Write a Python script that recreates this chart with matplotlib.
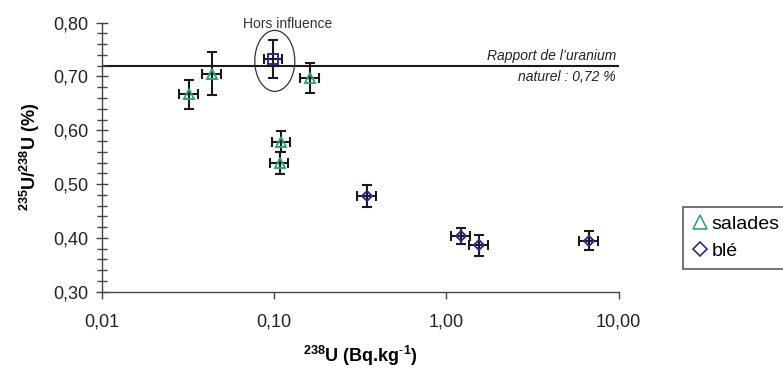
import matplotlib
matplotlib.use("Agg")
import matplotlib.pyplot as plt
from matplotlib.lines import Line2D
from matplotlib.patches import Ellipse
from matplotlib.ticker import FixedLocator, FuncFormatter, MultipleLocator

plt.rcParams['font.family'] = ['Liberation Sans', 'DejaVu Sans']
plt.rcParams['mathtext.fontset'] = 'custom'
plt.rcParams['mathtext.rm'] = 'Liberation Sans'
plt.rcParams['mathtext.bf'] = 'Liberation Sans:bold'
plt.rcParams['mathtext.it'] = 'Liberation Sans:italic'

# salades (lettuce)
sal_x = [0.032, 0.0437, 0.110, 0.108, 0.162]
sal_y = [0.667, 0.705, 0.579, 0.539, 0.697]
sal_xerr = [0.004, 0.0055, 0.013, 0.013, 0.020]
sal_yerr = [0.027, 0.040, 0.019, 0.021, 0.028]

# blé (wheat)
ble_x = [0.347, 1.22, 1.55, 6.76]
ble_y = [0.478, 0.4035, 0.386, 0.395]
ble_xerr = [0.042, 0.15, 0.19, 0.85]
ble_yerr = [0.021, 0.015, 0.020, 0.017]

# hors influence
hors_x = [0.099]
hors_y = [0.7325]
hors_xerr = [0.012]
hors_yerr = [0.035]

natural_ratio = 0.72
xticks = [0.01, 0.1, 1, 10]
xticklabels = ["0,01", "0,10", "1,00", "10,00"]

green = "#2fa67a"
navy = "#2c2b86"

fig = plt.figure(figsize=(7.83, 3.70), dpi=100)
ax = fig.add_axes([101.7 / 783, 1 - 291.7 / 370, 517 / 783, 269 / 370])

ax.set_xscale('log')
ax.set_xlim(0.01, 10)
ax.set_ylim(0.30, 0.80)

ekw = dict(fmt='none', ecolor='#1a1a1a', elinewidth=1.5, capsize=3.8, capthick=1.5, zorder=2)
ax.errorbar(sal_x, sal_y, xerr=sal_xerr, yerr=sal_yerr, **ekw)
ax.errorbar(ble_x, ble_y, xerr=ble_xerr, yerr=ble_yerr, **ekw)
ax.errorbar(hors_x, hors_y, xerr=hors_xerr, yerr=hors_yerr, **ekw)

ax.plot(sal_x, sal_y, linestyle='none', marker='^', markersize=7.5, markerfacecolor='none',
        markeredgecolor=green, markeredgewidth=1.4, zorder=3)
ax.plot(ble_x, ble_y, linestyle='none', marker='D', markersize=5.5, markerfacecolor='none',
        markeredgecolor=navy, markeredgewidth=1.4, zorder=3)
ax.plot(hors_x, hors_y, linestyle='none', marker='s', markersize=7, markerfacecolor='none',
        markeredgecolor=navy, markeredgewidth=1.4, zorder=3)

ax.axhline(natural_ratio, color='#1a1a1a', linewidth=1.5, zorder=1)
ax.text(0.995, natural_ratio + 0.005, "Rapport de l\u2019uranium", transform=ax.get_yaxis_transform(),
        ha='right', va='bottom', fontsize=10, style='italic', color='#222222')
ax.text(0.995, natural_ratio - 0.008, "naturel : 0,72 %", transform=ax.get_yaxis_transform(),
        ha='right', va='top', fontsize=10, style='italic', color='#222222')

# ellipse around the "hors influence" point (sized in axes fraction)
fig.canvas.draw()
cx, cy = ax.transAxes.inverted().transform(ax.transData.transform((0.101, 0.729)))
ell = Ellipse((cx, cy), 40 / 517, 61 / 269, transform=ax.transAxes, fill=False,
              edgecolor='#333333', linewidth=0.9, zorder=2)
ax.add_patch(ell)
ax.text(cx + 0.025, 0.997, "Hors influence", transform=ax.transAxes, ha='center', va='center',
        fontsize=10, color='#333333')

for s in ['top', 'right']:
    ax.spines[s].set_visible(False)
for s in ['left', 'bottom']:
    ax.spines[s].set_color('#444444')
    ax.spines[s].set_linewidth(1.0)

ax.xaxis.set_major_locator(FixedLocator(xticks))
ax.xaxis.set_minor_locator(FixedLocator([]))
ax.set_xticklabels(xticklabels)
ax.yaxis.set_major_locator(MultipleLocator(0.1))
ax.yaxis.set_minor_locator(MultipleLocator(0.02))
ax.yaxis.set_major_formatter(FuncFormatter(lambda v, p: f"{v:.2f}".replace('.', ',')))

ax.tick_params(axis='x', which='major', direction='out', length=5, width=1, color='#444444',
               labelsize=13, pad=11, labelcolor='#222222')
ax.tick_params(axis='y', which='major', direction='inout', length=9, width=1, color='#444444',
               labelsize=13, pad=5, labelcolor='#222222')
ax.tick_params(axis='y', which='minor', direction='inout', length=7, width=1, color='#444444')

ax.set_xlabel(r"$\mathbf{^{238}}$U (Bq.kg$\mathbf{^{\text{-}1}}$)", fontsize=13, fontweight='bold', labelpad=9)
ax.set_ylabel(r"$\mathbf{^{235}}$U/$\mathbf{^{238}}$U (%)", fontsize=13, fontweight='bold', labelpad=8)

handles = [
    Line2D([], [], linestyle='none', marker='^', markersize=10, markerfacecolor='none',
           markeredgecolor=green, markeredgewidth=1.2),
    Line2D([], [], linestyle='none', marker='D', markersize=7, markerfacecolor='none',
           markeredgecolor=navy, markeredgewidth=1.2),
]
leg = fig.legend(handles, ["salades", "blé"], loc='lower left',
                 bbox_to_anchor=(683 / 783, 1 - 269 / 370), fontsize=14, frameon=True,
                 fancybox=False, edgecolor='#333333', handlelength=0.8, handletextpad=0.2,
                 borderpad=0.45, labelspacing=0.5, borderaxespad=0)
leg.get_frame().set_linewidth(1.2)

fig.savefig("out.png", dpi=100)
